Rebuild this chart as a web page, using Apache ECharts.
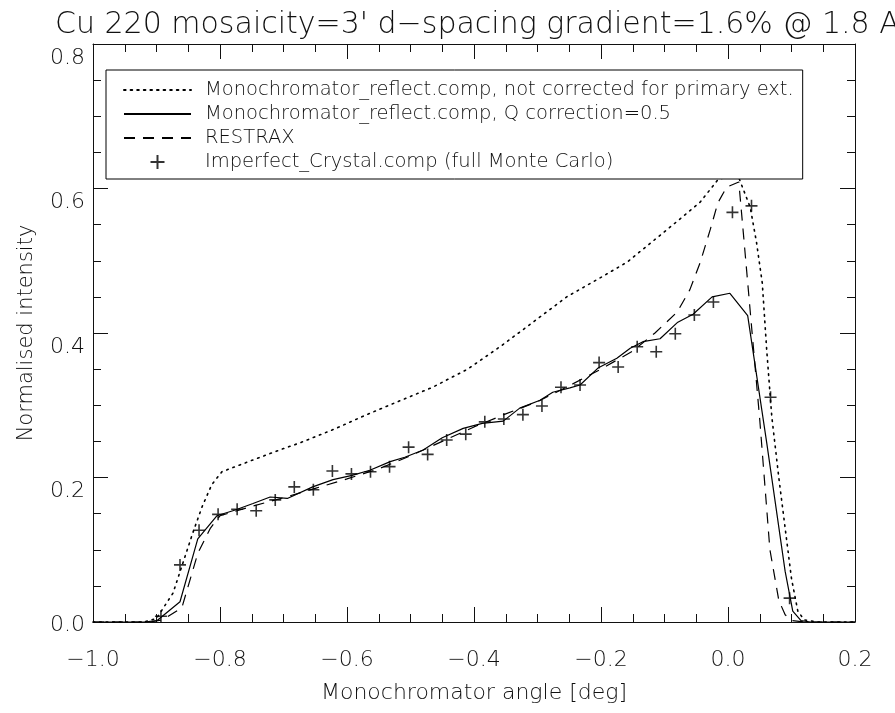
<!DOCTYPE html>
<html>
<head>
<meta charset="utf-8">
<script src="https://cdn.jsdelivr.net/npm/echarts@6/dist/echarts.min.js"></script>
<style>
  html, body { margin: 0; padding: 0; background: #fff; }
  #chart { width: 895px; height: 713px; }
</style>
</head>
<body>
<div id="chart"></div>
<script>
// Monochromator_reflect.comp, not corrected for primary extinction (dotted)
const dotX = [-1.0, -0.92, -0.9, -0.874, -0.843, -0.828, -0.813, -0.797, -0.77, -0.74,
  -0.7, -0.674, -0.62, -0.569, -0.52, -0.465, -0.41, -0.359, -0.31, -0.254,
  -0.202, -0.159, -0.096, -0.044, -0.016, 0.006, 0.017, 0.035, 0.045, 0.054,
  0.061, 0.069, 0.08, 0.09, 0.1, 0.11, 0.12, 0.14, 0.2];
const dotY = [0, 0, 0.005, 0.04, 0.123, 0.16, 0.19, 0.208, 0.217, 0.227,
  0.24, 0.248, 0.267, 0.287, 0.305, 0.325, 0.35, 0.381, 0.413, 0.45,
  0.476, 0.498, 0.543, 0.581, 0.612, 0.619, 0.615, 0.574, 0.525, 0.469,
  0.376, 0.284, 0.2, 0.13, 0.06, 0.015, 0.003, 0, 0];

// Monochromator_reflect.comp, Q correction=0.5 (solid)
const solidX = [-1.0, -0.92, -0.899, -0.863, -0.835, -0.805, -0.776, -0.748, -0.721, -0.694,
  -0.654, -0.622, -0.592, -0.564, -0.532, -0.509, -0.48, -0.45, -0.417, -0.387,
  -0.354, -0.328, -0.296, -0.276, -0.249, -0.233, -0.204, -0.175, -0.154, -0.134,
  -0.107, -0.079, -0.055, -0.025, 0.003, 0.031, 0.061, 0.09, 0.102, 0.115,
  0.13, 0.2];
const solidY = [0, 0, 0.002, 0.028, 0.115, 0.147, 0.155, 0.164, 0.173, 0.171,
  0.187, 0.197, 0.203, 0.21, 0.222, 0.228, 0.238, 0.255, 0.268, 0.275,
  0.278, 0.296, 0.307, 0.318, 0.324, 0.328, 0.352, 0.365, 0.379, 0.388,
  0.392, 0.415, 0.426, 0.45, 0.455, 0.424, 0.248, 0.07, 0.015, 0.002,
  0, 0];

// RESTRAX (dashed)
const dashX = [-1.0, -0.91, -0.89, -0.86, -0.835, -0.815, -0.8, -0.75, -0.7, -0.65,
  -0.6, -0.55, -0.5, -0.45, -0.4, -0.35, -0.3, -0.25, -0.2, -0.15,
  -0.115, -0.08, -0.06, -0.044, -0.028, -0.016, -0.002, 0.017, 0.024, 0.031,
  0.039, 0.05, 0.066, 0.08, 0.09, 0.1, 0.12, 0.2];
const dashY = [0, 0, 0.003, 0.02, 0.095, 0.13, 0.147, 0.16, 0.172, 0.185,
  0.198, 0.212, 0.23, 0.25, 0.27, 0.288, 0.305, 0.327, 0.35, 0.375,
  0.40, 0.429, 0.46, 0.497, 0.543, 0.58, 0.602, 0.609, 0.54, 0.47,
  0.39, 0.28, 0.10, 0.03, 0.01, 0.002, 0, 0];

// Imperfect_Crystal.comp (full Monte Carlo) (crosses)
const mcX = [-0.893, -0.863, -0.833, -0.803, -0.773, -0.743, -0.713, -0.683, -0.653, -0.623,
  -0.593, -0.563, -0.533, -0.503, -0.473, -0.443, -0.413, -0.383, -0.353, -0.323,
  -0.293, -0.263, -0.233, -0.203, -0.173, -0.143, -0.113, -0.083, -0.053, -0.023,
  0.007, 0.037, 0.067, 0.097];
const mcY = [0.008, 0.079, 0.127, 0.149, 0.156, 0.154, 0.169, 0.187, 0.183, 0.209,
  0.205, 0.208, 0.215, 0.242, 0.232, 0.252, 0.260, 0.277, 0.281, 0.287,
  0.299, 0.325, 0.328, 0.359, 0.353, 0.381, 0.374, 0.399, 0.425, 0.443,
  0.567, 0.576, 0.311, 0.033];

const seriesNames = [
  "Monochromator_reflect.comp, not corrected for primary ext.",
  "Monochromator_reflect.comp, Q correction=0.5",
  "RESTRAX",
  "Imperfect_Crystal.comp (full Monte Carlo)",
];

const titleText = "Cu 220 mosaicity=3' d\u2212spacing gradient=1.6% @ 1.8 A";
const FONT = "DejaVu Sans";
const W = 200; // thin strokes, like the original plotting font
const INK = "#111";

const zip = (xs, ys) => xs.map((x, i) => [x, ys[i]]);
const fmt = (v) => v.toFixed(1).replace("-", "\u2212");
// the 0.0 label sits level with the axis, the others just under their tick
const fmtY = (v) => (v === 0 ? "{z|" + fmt(v) + "}" : fmt(v));

const tickCommon = {
  axisLine: { show: true, onZero: false, lineStyle: { color: INK, width: 1 } },
  axisTick: { show: true, inside: true, length: 15, lineStyle: { color: INK } },
  minorTick: { show: true, splitNumber: 4, length: 8, lineStyle: { color: INK } },
  splitLine: { show: false },
  minorSplitLine: { show: false },
};

const chart = echarts.init(document.getElementById("chart"), null, { renderer: "canvas" });

chart.setOption({
  animation: false,
  backgroundColor: "#fff",
  title: {
    text: titleText,
    left: 50,
    top: 5,
    textStyle: { fontFamily: FONT, fontSize: 30, fontWeight: W, color: INK },
  },
  legend: {
    orient: "vertical",
    left: 106,
    top: 70,
    data: seriesNames,
    selectedMode: false,
    itemWidth: 67,
    itemHeight: 14,
    itemGap: 4,
    padding: [10, 9, 7, 17],
    borderColor: "#000",
    borderWidth: 1,
    backgroundColor: "#fff",
    textStyle: {
      fontFamily: FONT,
      fontSize: 19.5,
      fontWeight: W,
      lineHeight: 20,
      color: INK,
      padding: [0, 0, 0, 9],
    },
  },
  grid: { left: 93, right: 40, top: 44, bottom: 91 },
  xAxis: [
    {
      type: "value",
      min: -1,
      max: 0.2,
      interval: 0.2,
      position: "bottom",
      name: "Monochromator angle [deg]",
      nameLocation: "middle",
      nameGap: 60,
      nameTextStyle: { fontFamily: FONT, fontSize: 22, fontWeight: W, color: INK },
      axisLabel: {
        margin: 27,
        fontFamily: FONT,
        fontSize: 22,
        fontWeight: W,
        color: INK,
        formatter: fmt,
      },
      ...tickCommon,
    },
    {
      type: "value",
      min: -1,
      max: 0.2,
      interval: 0.2,
      position: "top",
      axisLabel: { show: false },
      ...tickCommon,
    },
  ],
  yAxis: [
    {
      type: "value",
      min: 0,
      max: 0.8,
      interval: 0.2,
      position: "left",
      name: "Normalised intensity",
      nameLocation: "middle",
      nameGap: 56,
      nameTextStyle: { fontFamily: FONT, fontSize: 21, fontWeight: W, color: INK },
      axisLabel: {
        margin: 8,
        fontFamily: FONT,
        fontSize: 22,
        fontWeight: W,
        lineHeight: 28,
        color: INK,
        verticalAlign: "top",
        formatter: fmtY,
        rich: {
          z: { fontFamily: FONT, fontSize: 22, fontWeight: W, color: INK, lineHeight: 6 },
        },
      },
      ...tickCommon,
    },
    {
      type: "value",
      min: 0,
      max: 0.8,
      interval: 0.2,
      position: "right",
      axisLabel: { show: false },
      ...tickCommon,
    },
  ],
  series: [
    {
      name: seriesNames[0],
      type: "line",
      data: zip(dotX, dotY),
      symbol: "none",
      showSymbol: false,
      lineStyle: { color: "#000", width: 1.6, type: [1.6, 5], cap: "round" },
      itemStyle: { color: "transparent" },
    },
    {
      name: seriesNames[1],
      type: "line",
      data: zip(solidX, solidY),
      symbol: "none",
      showSymbol: false,
      lineStyle: { color: "#000", width: 1.2 },
      itemStyle: { color: "transparent" },
    },
    {
      name: seriesNames[2],
      type: "line",
      data: zip(dashX, dashY),
      symbol: "none",
      showSymbol: false,
      lineStyle: { color: "#000", width: 1.2, type: [11, 8] },
      itemStyle: { color: "transparent" },
    },
    {
      name: seriesNames[3],
      type: "scatter",
      data: zip(mcX, mcY),
      symbol: "path://M0,6H12M6,0V12",
      symbolSize: 12,
      itemStyle: { color: "none", borderColor: "#000", borderWidth: 1.6 },
    },
  ],
});
</script>
</body>
</html>
